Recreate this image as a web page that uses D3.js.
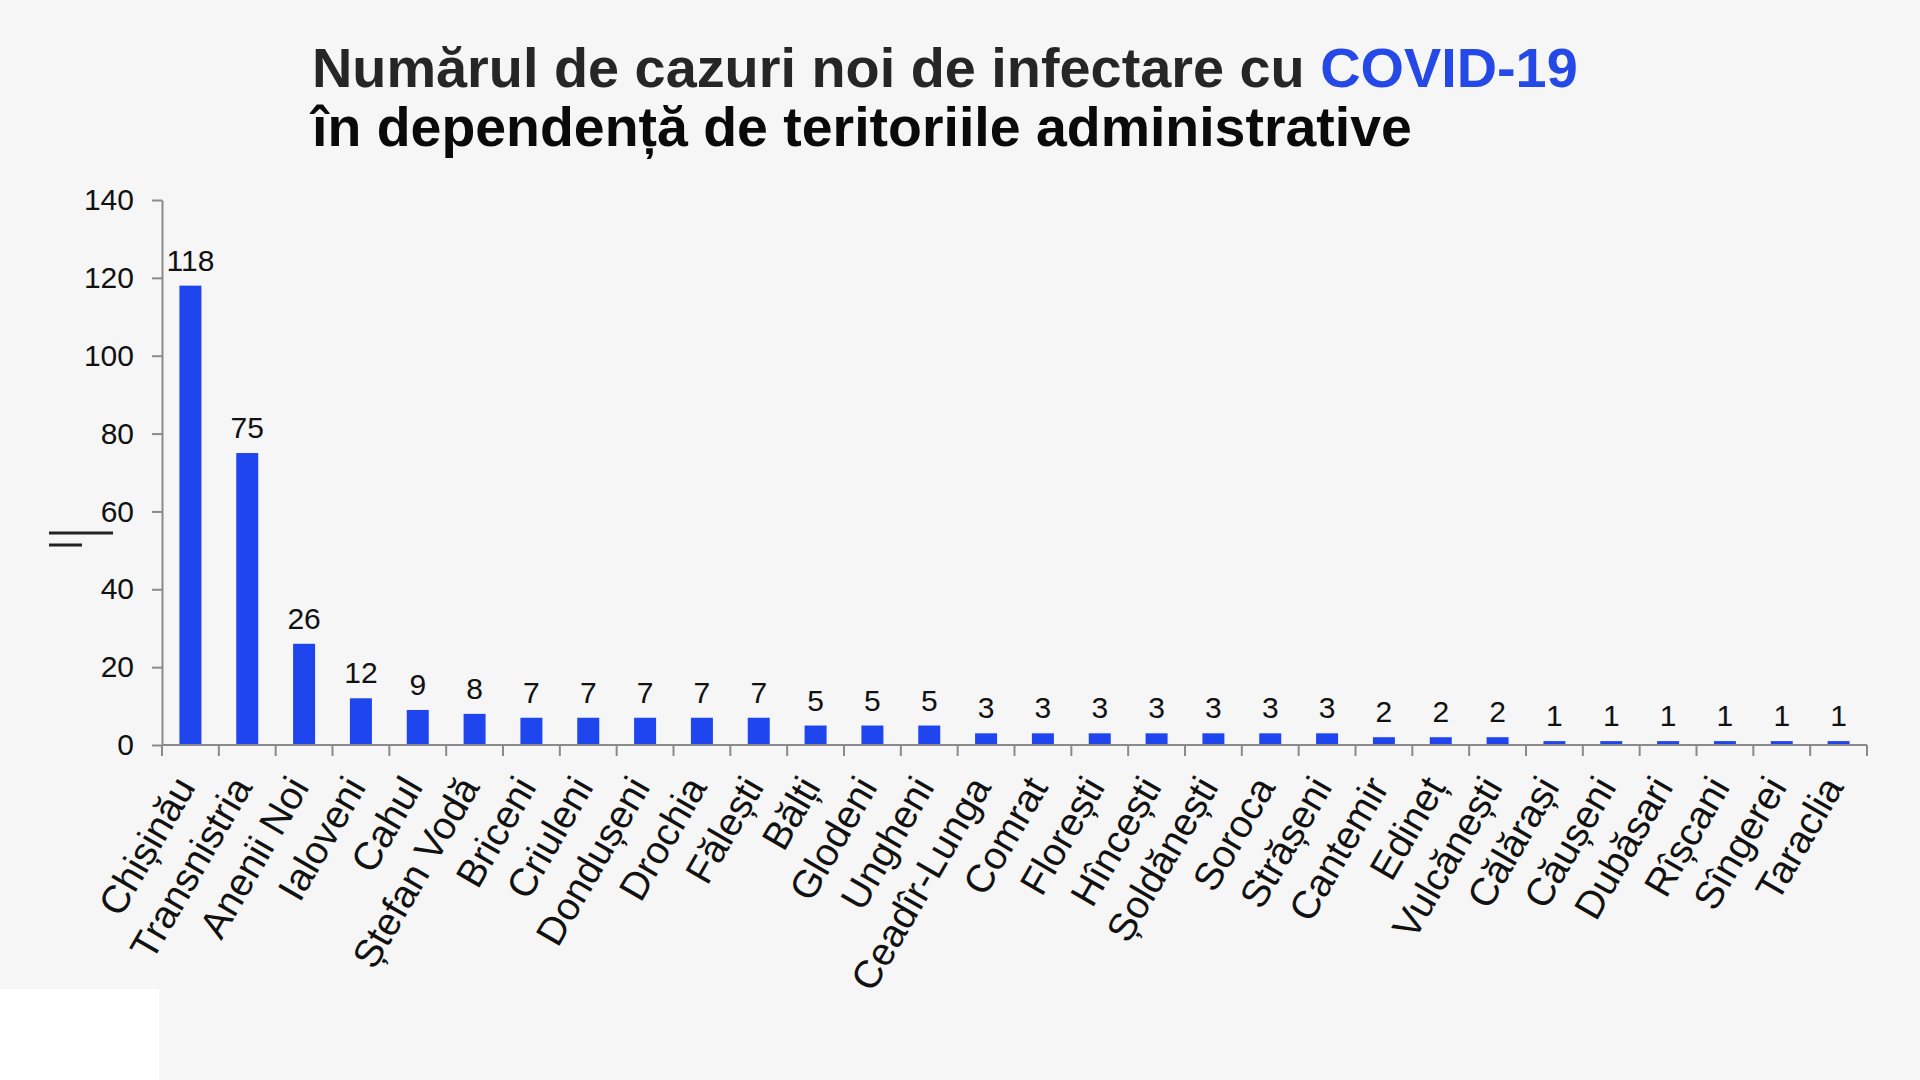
<html>
<head>
<meta charset="utf-8">
<style>
  body { margin: 0; background: #f6f6f6; }
  svg { display: block; background: #f6f6f6; }
  .axis path, .axis line { stroke: #8a8a8a; stroke-width: 2; }
  .axis text { font-family: "Liberation Sans", Arial, sans-serif; font-size: 30px; fill: #111; }
  .bar { fill: #1f46ee; }
  .value { font-family: "Liberation Sans", Arial, sans-serif; font-size: 30px; fill: #111; text-anchor: middle; }
  .cat { font-family: "Liberation Sans", Arial, sans-serif; font-size: 39px; fill: #111; text-anchor: end; }
  .title { font-family: "Liberation Sans", Arial, sans-serif; font-size: 56px; font-weight: bold; }
</style>
</head>
<body>
<svg width="1920" height="1080"></svg>
<script src="https://d3js.org/d3.v7.min.js"></script>
<script>
var categories = ["Chișinău", "Transnistria", "Anenii Noi", "Ialoveni", "Cahul", "Ștefan Vodă",
  "Briceni", "Criuleni", "Dondușeni", "Drochia", "Fălești", "Bălți", "Glodeni", "Ungheni",
  "Ceadîr-Lunga", "Comrat", "Florești", "Hîncești", "Șoldănești", "Soroca", "Strășeni",
  "Cantemir", "Edineț", "Vulcănești", "Călărași", "Căușeni", "Dubăsari", "Rîșcani",
  "Sîngerei", "Taraclia"];
var cases = [118, 75, 26, 12, 9, 8, 7, 7, 7, 7, 7, 5, 5, 5, 3, 3, 3, 3, 3, 3, 3, 2, 2, 2, 1, 1, 1, 1, 1, 1];
var yTicks = [0, 20, 40, 60, 80, 100, 120, 140];
var titleLine1 = "Numărul de cazuri noi de infectare cu ";
var titleHighlight = "COVID-19";
var titleLine2 = "în dependență de teritoriile administrative";

var svg = d3.select("svg");
var margin = {top: 200, right: 53, bottom: 335, left: 162};
var width = +svg.attr("width") - margin.left - margin.right;
var height = +svg.attr("height") - margin.top - margin.bottom;

// white patch bottom-left, as in the original slide
svg.append("rect").attr("x", 0).attr("y", 989).attr("width", 159).attr("height", 91).attr("fill", "#ffffff");

// stray marks left of the axis
svg.append("line").attr("x1", 49).attr("x2", 113).attr("y1", 533).attr("y2", 533)
  .attr("stroke", "#222").attr("stroke-width", 3);
svg.append("line").attr("x1", 49).attr("x2", 82).attr("y1", 545).attr("y2", 545)
  .attr("stroke", "#222").attr("stroke-width", 3);

// title, stretched to the width it has on the slide
function fitTitle(sel, target) {
  var w = sel.node().getComputedTextLength();
  sel.attr("transform", "translate(312," + sel.attr("data-y") + ") scale(" + (target / w) + ",1)");
}
var t1 = svg.append("text").attr("class", "title").attr("data-y", 87).attr("fill", "#262626");
t1.append("tspan").text(titleLine1);
t1.append("tspan").attr("fill", "#2449e6").text(titleHighlight);
fitTitle(t1, 1266);
var t2 = svg.append("text").attr("class", "title").attr("data-y", 146).attr("fill", "#0a0a0a").text(titleLine2);
fitTitle(t2, 1100);

var x = d3.scaleBand().domain(categories).range([0, width]).paddingInner(0.613).paddingOuter(0.3065);
var y = d3.scaleLinear().domain([0, 140]).range([height, 0]);

var g = svg.append("g").attr("transform", "translate(" + margin.left + "," + margin.top + ")");

g.append("g")
  .attr("class", "axis axis--y")
  .call(d3.axisLeft(y).tickValues(yTicks).tickSize(10).tickSizeOuter(0).tickPadding(18));

g.selectAll(".bar")
  .data(cases)
  .enter().append("rect")
  .attr("class", "bar")
  .attr("x", function(d, i) { return x(categories[i]); })
  .attr("width", x.bandwidth())
  .attr("y", function(d) { return y(d); })
  .attr("height", function(d) { return height - y(d); });

g.selectAll(".value")
  .data(cases)
  .enter().append("text")
  .attr("class", "value")
  .attr("x", function(d, i) { return x(categories[i]) + x.bandwidth() / 2; })
  .attr("y", function(d) { return y(d) - 15; })
  .text(function(d) { return d; });

// x axis: line with ticks on the category boundaries
var xAxis = g.append("g").attr("class", "axis axis--x").attr("transform", "translate(0," + height + ")");
xAxis.append("path").attr("d", "M0,0H" + width);
var bounds = categories.map(function(c) { return x(c) + x.bandwidth() / 2 - x.step() / 2; }).concat([width]);
xAxis.selectAll(".tickb")
  .data(bounds)
  .enter().append("line")
  .attr("class", "tickb")
  .attr("x1", function(d) { return d; }).attr("x2", function(d) { return d; })
  .attr("y1", 0).attr("y2", 11);

g.selectAll(".cat")
  .data(categories)
  .enter().append("text")
  .attr("class", "cat")
  .attr("transform", function(d) {
    return "translate(" + (x(d) + x.bandwidth() / 2 + 6) + "," + (height + 42) + ") rotate(-60)";
  })
  .text(function(d) { return d; });
</script>
</body>
</html>
